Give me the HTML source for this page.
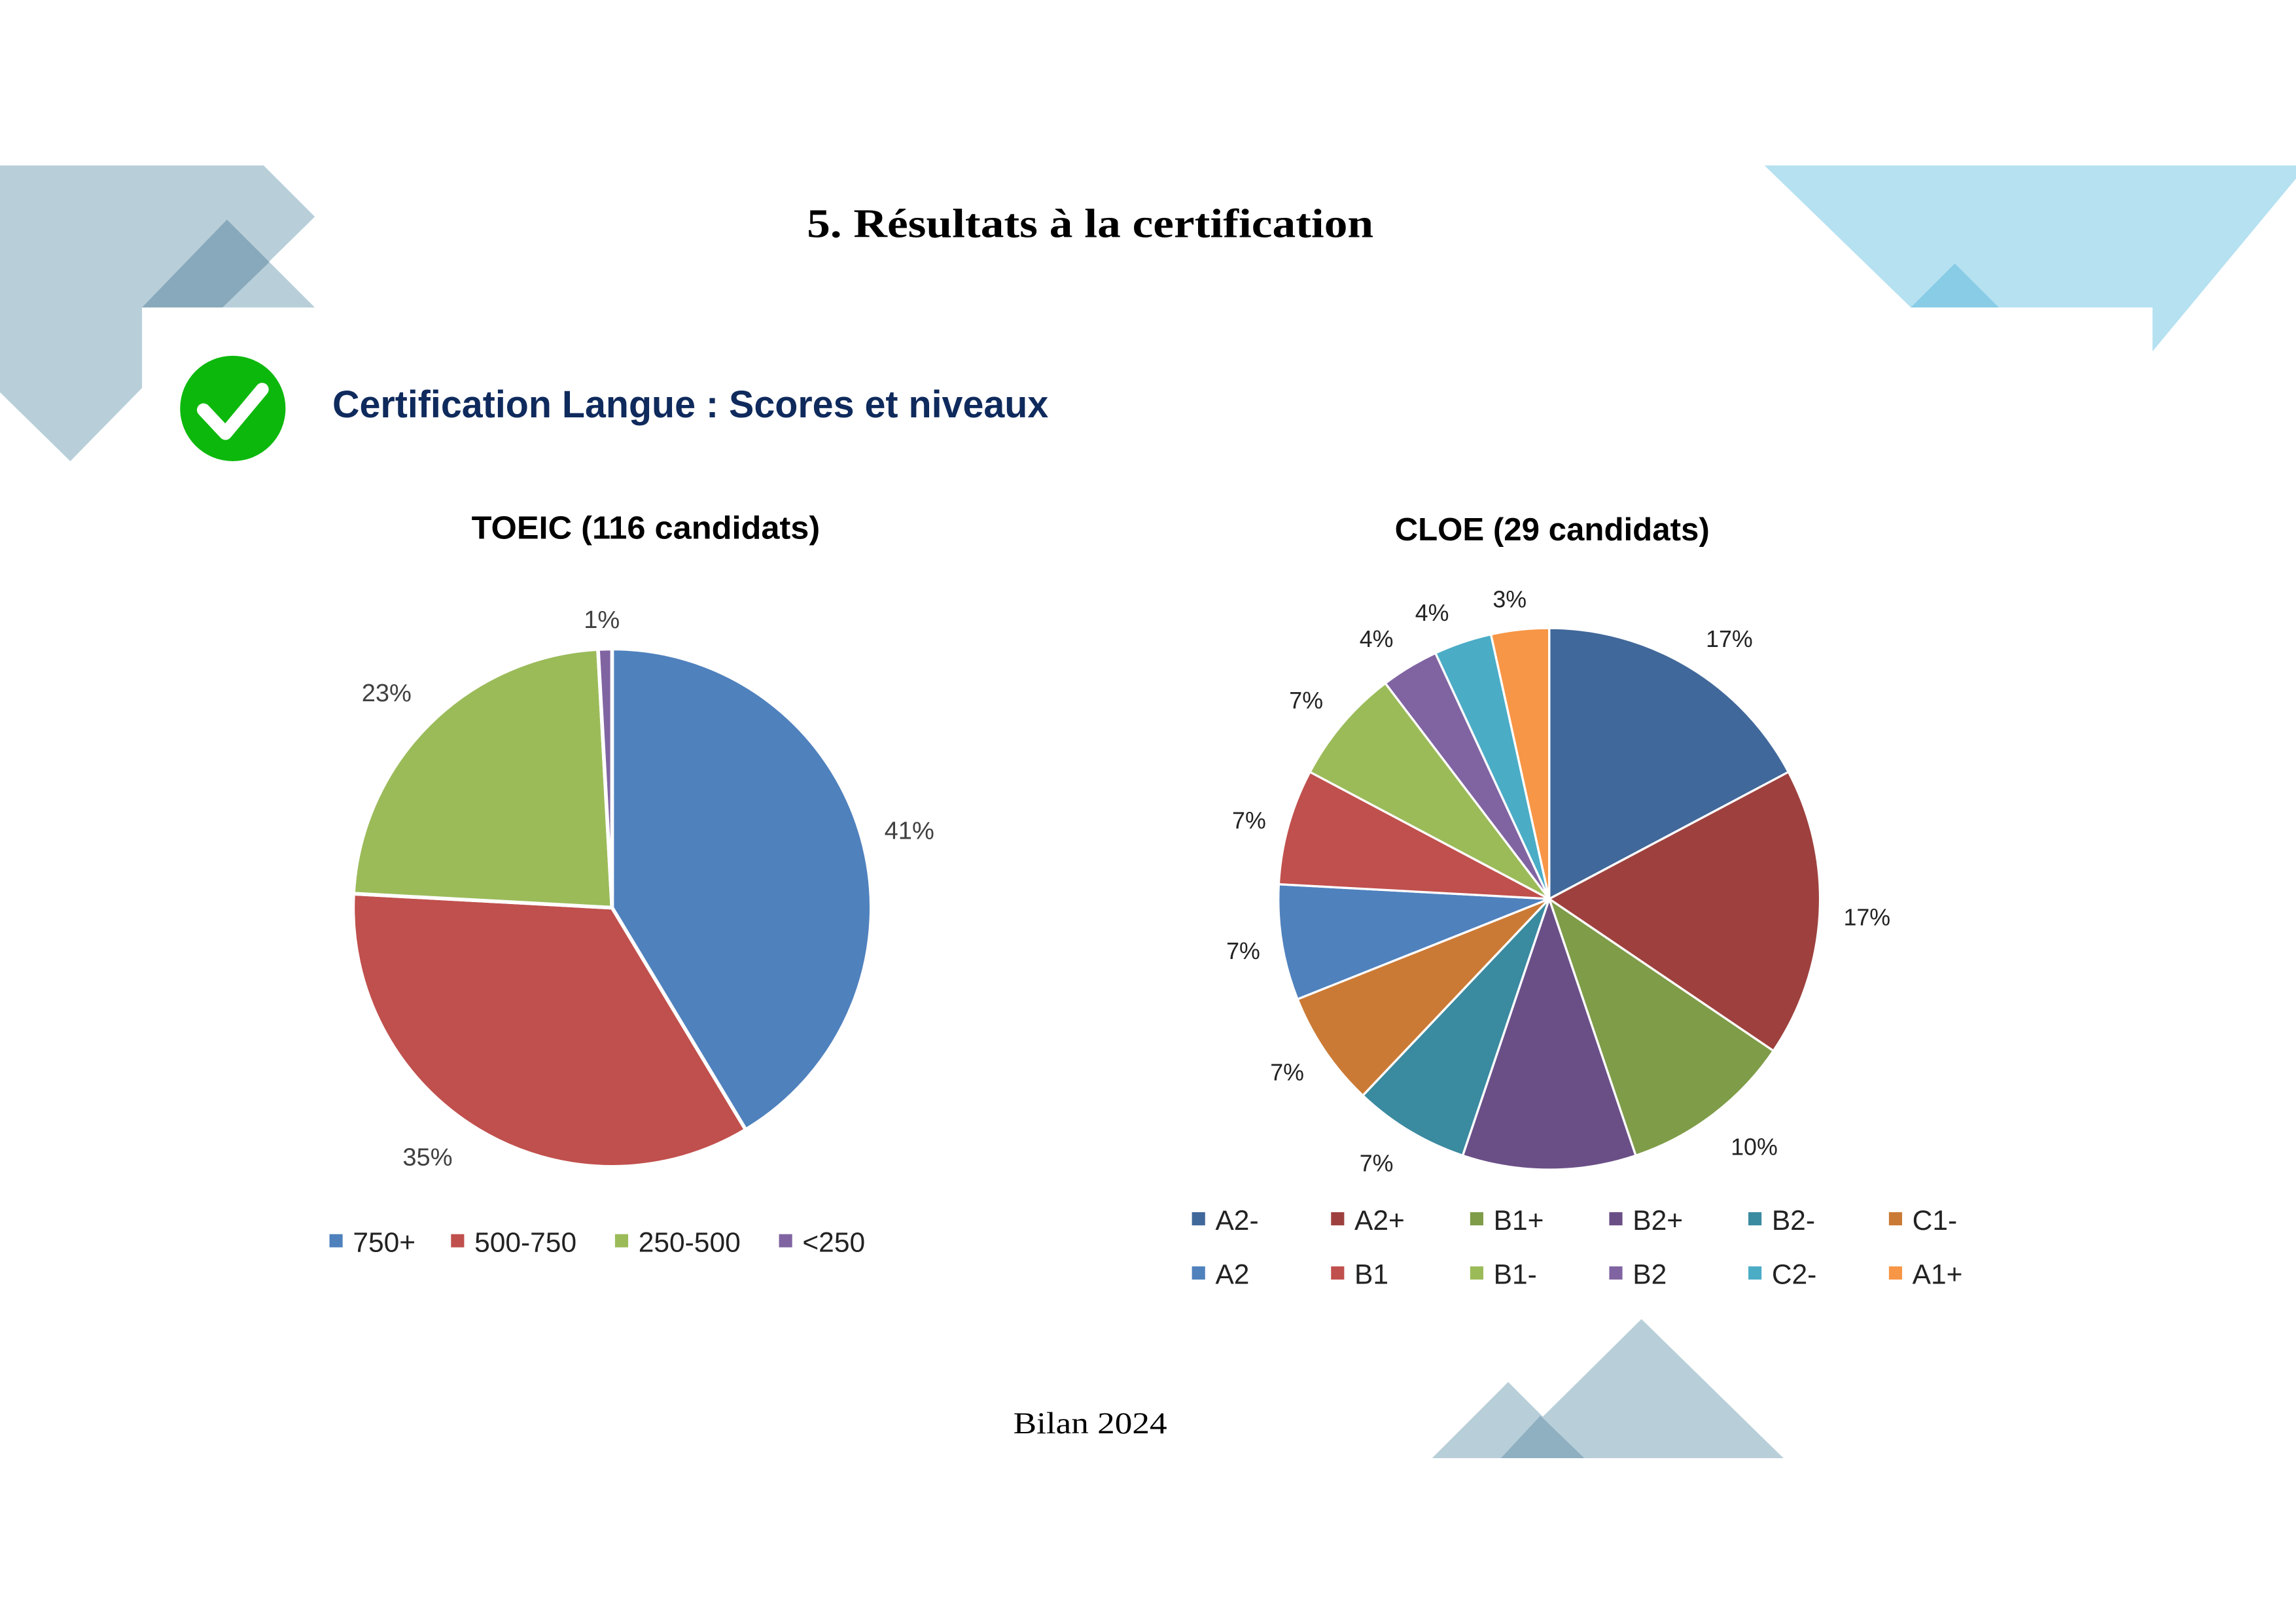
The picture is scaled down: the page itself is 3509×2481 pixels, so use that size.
<!DOCTYPE html>
<html><head><meta charset="utf-8"><style>html,body{margin:0;padding:0;background:#fff}svg{display:block}</style></head>
<body>
<svg width="3509" height="2481" viewBox="0 0 1568 1108.6" preserveAspectRatio="none" xmlns="http://www.w3.org/2000/svg">
<rect width="1568" height="1108.6" fill="#fff"/>
<polygon points="0,113 180,113 215,148 152,210 97,210 97,265 48,315 0,268" fill="#b8cfd9"/>
<polygon points="155,150 97,210 215,210" fill="#b8cfd9"/>
<polygon points="155,150 97,210 152,210 184,179" fill="#88a9bb"/>
<polygon points="1205,113 1568,113 1568,122 1470,240 1470,210 1305,210" fill="#b5e1f1"/>
<polygon points="1335,180 1305,210 1365,210" fill="#88cce6"/>
<polygon points="1121,901 1025,996 1218,996" fill="#b8cfd9"/>
<polygon points="1030,944 978,996 1082,996" fill="#b8cfd9"/>
<polygon points="1052,967 1025,996 1082,996" fill="#8fb0c1"/>

<text x="551" y="162" font-family="Liberation Serif, serif" font-weight="bold" font-size="28" fill="#000" textLength="387" lengthAdjust="spacingAndGlyphs">5.  Résultats à la certification</text>
<text x="692" y="979" font-family="Liberation Serif, serif" font-size="21" fill="#000" textLength="105" lengthAdjust="spacingAndGlyphs">Bilan 2024</text>

<circle cx="159" cy="279" r="36" fill="#0cb80c"/>
<polyline points="139,280 154,296 179,266" fill="none" stroke="#fff" stroke-width="9" stroke-linecap="round" stroke-linejoin="round"/>
<text x="227" y="285" font-family="Liberation Sans, sans-serif" font-weight="bold" font-size="26" fill="#0f2a5c" textLength="489" lengthAdjust="spacingAndGlyphs">Certification Langue : Scores et niveaux</text>

<text x="441" y="368" text-anchor="middle" font-family="Liberation Sans, sans-serif" font-weight="bold" font-size="22" fill="#000" textLength="238" lengthAdjust="spacingAndGlyphs">TOEIC (116 candidats)</text>
<text x="1060" y="369" text-anchor="middle" font-family="Liberation Sans, sans-serif" font-weight="bold" font-size="22" fill="#000" textLength="215" lengthAdjust="spacingAndGlyphs">CLOE (29 candidats)</text>

<g stroke="#fff" stroke-width="2.5" stroke-linejoin="round">
<path d="M418 620 L418 443 A177 177 0 0 1 509.3 771.7 Z" fill="#4f81bd"/>
<path d="M418 620 L509.3 771.7 A177 177 0 0 1 241.3 610.4 Z" fill="#c0504d"/>
<path d="M418 620 L241.3 610.4 A177 177 0 0 1 408.4 443.3 Z" fill="#9bbb59"/>
<path d="M418 620 L408.4 443.3 A177 177 0 0 1 418 443 Z" fill="#8064a2"/>
</g>
<g font-family="Liberation Sans, sans-serif" font-size="17" fill="#404040" text-anchor="middle">
<text x="621" y="573">41%</text><text x="292" y="796">35%</text><text x="264" y="479">23%</text><text x="411" y="429">1%</text>
</g>
<g font-family="Liberation Sans, sans-serif" font-size="19" fill="#222">
<rect x="225" y="843" width="9" height="9" fill="#4f81bd"/><text x="241" y="855">750+</text>
<rect x="308" y="843" width="9" height="9" fill="#c0504d"/><text x="324" y="855">500-750</text>
<rect x="420" y="843" width="9" height="9" fill="#9bbb59"/><text x="436" y="855">250-500</text>
<rect x="532" y="843" width="9" height="9" fill="#8064a2"/><text x="548" y="855">&lt;250</text>
</g>

<g stroke="#fff" stroke-width="1.5" stroke-linejoin="round">
<path d="M1058 614 L1058 429 A185 185 0 0 1 1221.4 527.3 Z" fill="#41689a"/>
<path d="M1058 614 L1221.4 527.3 A185 185 0 0 1 1211.1 717.8 Z" fill="#9e413e"/>
<path d="M1058 614 L1211.1 717.8 A185 185 0 0 1 1117.1 789.3 Z" fill="#7f9c48"/>
<path d="M1058 614 L1117.1 789.3 A185 185 0 0 1 998.9 789.3 Z" fill="#6a4f87"/>
<path d="M1058 614 L998.9 789.3 A185 185 0 0 1 930.7 748.3 Z" fill="#3a8aa0"/>
<path d="M1058 614 L930.7 748.3 A185 185 0 0 1 886.1 682.5 Z" fill="#cb7a35"/>
<path d="M1058 614 L886.1 682.5 A185 185 0 0 1 873.3 604.0 Z" fill="#4f81bd"/>
<path d="M1058 614 L873.3 604.0 A185 185 0 0 1 894.6 527.3 Z" fill="#c0504d"/>
<path d="M1058 614 L894.6 527.3 A185 185 0 0 1 946.1 466.7 Z" fill="#9bbb59"/>
<path d="M1058 614 L946.1 466.7 A185 185 0 0 1 980.3 446.1 Z" fill="#8064a2"/>
<path d="M1058 614 L980.3 446.1 A185 185 0 0 1 1018.2 433.3 Z" fill="#4bacc6"/>
<path d="M1058 614 L1018.2 433.3 A185 185 0 0 1 1058 429 Z" fill="#f79646"/>
</g>
<g font-family="Liberation Sans, sans-serif" font-size="16" fill="#222" text-anchor="middle">
<text x="1181" y="442">17%</text><text x="1275" y="632">17%</text><text x="1198" y="789">10%</text>
<text x="940" y="800">7%</text><text x="879" y="738">7%</text><text x="849" y="655">7%</text>
<text x="853" y="566">7%</text><text x="892" y="484">7%</text><text x="940" y="442">4%</text>
<text x="978" y="424">4%</text><text x="1031" y="415">3%</text>
</g>
<g font-family="Liberation Sans, sans-serif" font-size="19" fill="#222">
<rect x="814" y="828" width="9" height="9" fill="#41689a"/><text x="830" y="840">A2-</text>
<rect x="909" y="828" width="9" height="9" fill="#9e413e"/><text x="925" y="840">A2+</text>
<rect x="1004" y="828" width="9" height="9" fill="#7f9c48"/><text x="1020" y="840">B1+</text>
<rect x="1099" y="828" width="9" height="9" fill="#6a4f87"/><text x="1115" y="840">B2+</text>
<rect x="1194" y="828" width="9" height="9" fill="#3a8aa0"/><text x="1210" y="840">B2-</text>
<rect x="1290" y="828" width="9" height="9" fill="#cb7a35"/><text x="1306" y="840">C1-</text>
<rect x="814" y="865" width="9" height="9" fill="#4f81bd"/><text x="830" y="877">A2</text>
<rect x="909" y="865" width="9" height="9" fill="#c0504d"/><text x="925" y="877">B1</text>
<rect x="1004" y="865" width="9" height="9" fill="#9bbb59"/><text x="1020" y="877">B1-</text>
<rect x="1099" y="865" width="9" height="9" fill="#8064a2"/><text x="1115" y="877">B2</text>
<rect x="1194" y="865" width="9" height="9" fill="#4bacc6"/><text x="1210" y="877">C2-</text>
<rect x="1290" y="865" width="9" height="9" fill="#f79646"/><text x="1306" y="877">A1+</text>
</g>
</svg>
</body></html>
